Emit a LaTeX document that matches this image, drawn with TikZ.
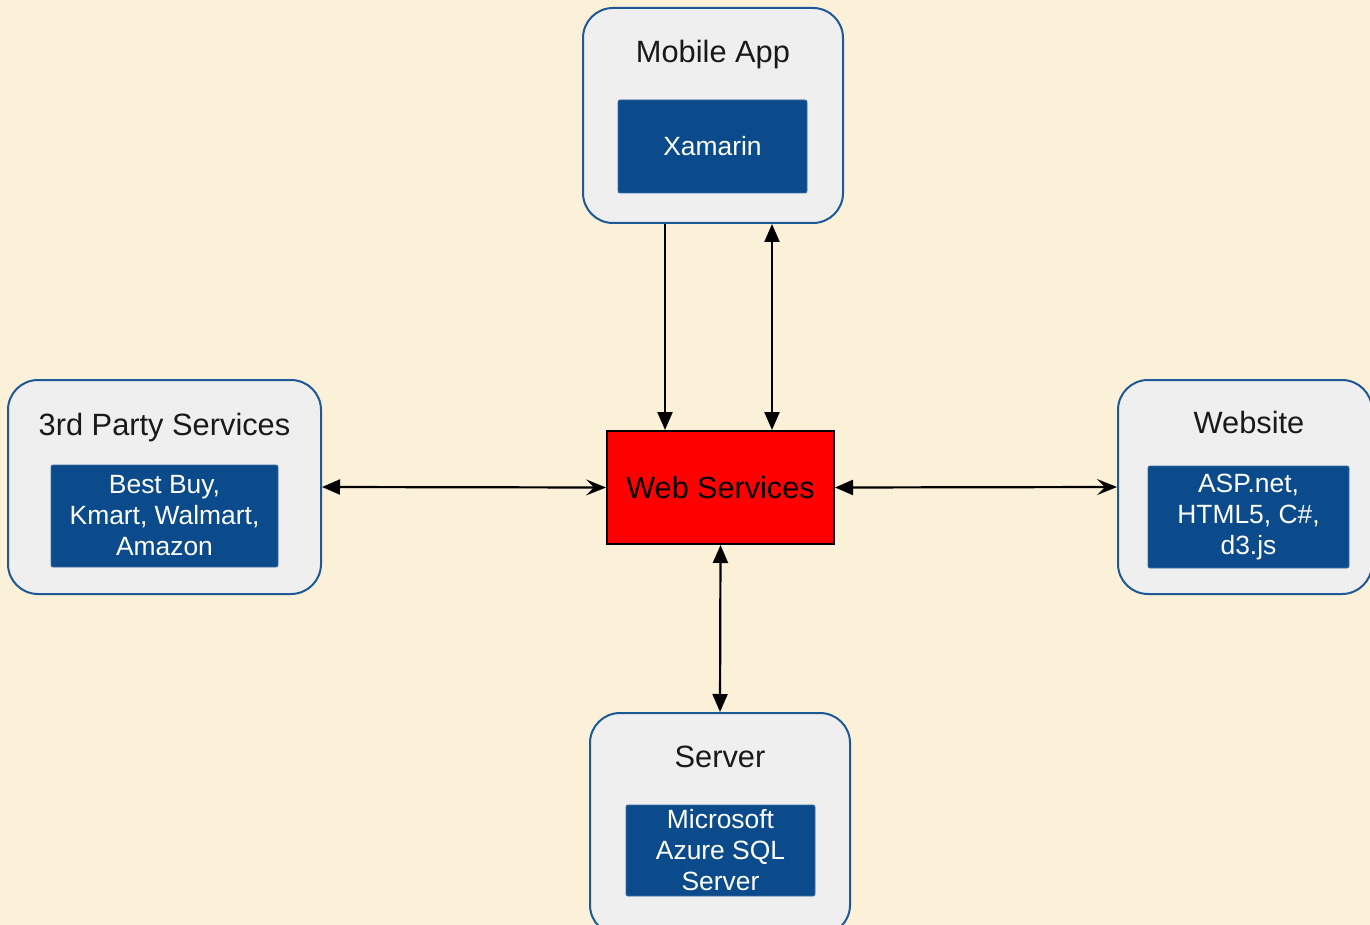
\documentclass[tikz,border=0pt]{standalone}
\usepackage{fontspec}
\setmainfont{Liberation Sans}
\usepackage{tikz}
\usetikzlibrary{arrows.meta,backgrounds,calc}
\definecolor{paper}{RGB}{251,240,216}
\definecolor{boxgray}{RGB}{239,239,239}
\definecolor{boxline}{RGB}{31,88,150}
\definecolor{techblue}{RGB}{11,75,140}
\definecolor{wsred}{RGB}{255,0,0}

\begin{document}
\begin{tikzpicture}[x=0.5pt,y=-0.5pt,
  outerbox/.style={draw=boxline,line width=1pt,fill=boxgray,rounded corners=15pt,inner sep=0pt},
  techbox/.style={fill=techblue,draw=techblue!80!white,line width=0.4pt,rounded corners=1pt,text=white,
    align=center,inner sep=0pt,font=\fontsize{13.2}{15.5}\selectfont},
  titletext/.style={anchor=base,text=black!90,font=\fontsize{15.4}{17}\selectfont,inner sep=0pt},
  link/.style={line width=1.1pt,black},
  tri/.tip={Triangle[length=9pt,width=7.5pt]},
  barb/.tip={Stealth[length=10pt,width=8pt,inset=4pt]}]
\useasboundingbox (0,0) rectangle (1370,925);
\fill[paper] (0,0) rectangle (1370,925);
\clip (0,0) rectangle (1370,925);

\node[outerbox,minimum width=130pt,minimum height=107.5pt] (mobile) at (713,115.5) {};
\node[titletext] (mobiletitle) at (713,63) {Mobile App};
\node[techbox,minimum width=94.5pt,minimum height=46.5pt] (xamarin) at (712.5,146.5) {Xamarin};

\node[outerbox,minimum width=156.5pt,minimum height=107pt] (third) at (164.5,487) {};
\node[titletext] (thirdtitle) at (164.5,435) {3rd Party Services};
\node[techbox,minimum width=113.5pt,minimum height=51pt] (stores) at (164.5,516) {Best Buy,\\Kmart, Walmart,\\Amazon};

\node[outerbox,minimum width=127pt,minimum height=107pt] (website) at (1245,487) {};
\node[titletext] (websitetitle) at (1249,433) {Website};
\node[techbox,minimum width=100.5pt,minimum height=51pt] (webtech) at (1248.5,517) {ASP.net,\\HTML5, C\#,\\d3.js};

\node[outerbox,minimum width=130pt,minimum height=111pt] (server) at (720,824) {};
\node[titletext] (servertitle) at (720,767) {Server};
\node[techbox,minimum width=94.5pt,minimum height=45.5pt] (azure) at (720.5,850.5) {Microsoft\\Azure SQL\\Server};

\node[draw=black,line width=1pt,fill=wsred,minimum width=113.5pt,minimum height=56.5pt,inner sep=0pt,
  font=\fontsize{15.3}{17}\selectfont] (web) at (720.5,487.5) {Web Services};

\draw[link,-tri] ([xshift=-24pt]mobile.south) -- ([xshift=-24pt]mobile.south |- web.north);
\draw[link,tri-tri] ([xshift=29.5pt]mobile.south) -- ([xshift=29.5pt]mobile.south |- web.north);
\draw[link,tri-barb] (third.east) -- (web.west);
\draw[link,tri-barb] (web.east) -- (website.west);
\draw[link,tri-tri] (web.south) -- (server.north);
\end{tikzpicture}
\end{document}
